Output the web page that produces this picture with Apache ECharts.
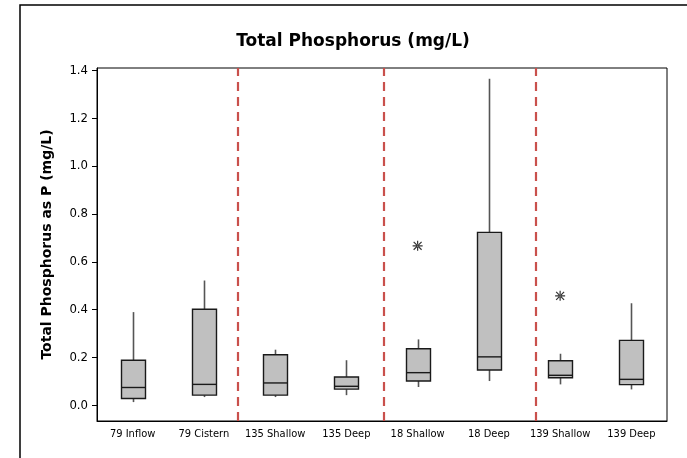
<!DOCTYPE html>
<html>
<head>
<meta charset="utf-8">
<script src="https://cdn.jsdelivr.net/npm/echarts@6/dist/echarts.min.js"></script>
<style>
html,body{margin:0;padding:0;background:#fff;}
#chart{width:687px;height:458px;}
</style>
</head>
<body>
<div id="chart"></div>
<script>
const categories = ['79 Inflow','79 Cistern','135 Shallow','135 Deep','18 Shallow','18 Deep','139 Shallow','139 Deep'];
const mins    = [0.014, 0.035, 0.035, 0.043, 0.077, 0.102, 0.088, 0.067];
const q1s     = [0.029, 0.043, 0.043, 0.068, 0.102, 0.148, 0.116, 0.087];
const medians = [0.075, 0.088, 0.094, 0.080, 0.137, 0.203, 0.126, 0.109];
const q3s     = [0.189, 0.402, 0.212, 0.119, 0.237, 0.723, 0.187, 0.272];
const maxs    = [0.390, 0.522, 0.233, 0.189, 0.276, 1.365, 0.216, 0.427];
const outlierCats = ['18 Shallow', '139 Shallow'];
const outlierVals = [0.667, 0.458];
const refLines = [1.97, 4.02, 6.16];
const yTicks = [0.0, 0.2, 0.4, 0.6, 0.8, 1.0, 1.2, 1.4];

const FONT = '"DejaVu Sans Condensed", "DejaVu Sans", sans-serif';
const FONT_B = '"DejaVu Sans", sans-serif';
const boxData = categories.map((c, i) => [i, mins[i], q1s[i], medians[i], q3s[i], maxs[i]]);
const outData = outlierCats.map((c, i) => [c, outlierVals[i]]);
const asterisk = 'path://M8.8,0 L11.2,0 L11.2,20 L8.8,20 Z M0,8.8 L0,11.2 L20,11.2 L20,8.8 Z M1.2,2.9 L17.1,18.8 L18.8,17.1 L2.9,1.2 Z M17.1,1.2 L1.2,17.1 L2.9,18.8 L18.8,2.9 Z';

function renderBox(params, api) {
  const x = api.value(0);
  const pMin = api.coord([x, api.value(1)]);
  const pQ1 = api.coord([x, api.value(2)]);
  const pMed = api.coord([x, api.value(3)]);
  const pQ3 = api.coord([x, api.value(4)]);
  const pMax = api.coord([x, api.value(5)]);
  const half = 12;
  const cx = Math.round(pMed[0]) + 0.5;
  const whisk = {stroke: '#555', lineWidth: 1.6};
  const edge = {stroke: '#1a1a1a', lineWidth: 1.4};
  return {
    type: 'group',
    children: [
      {type: 'line', shape: {x1: cx, y1: pMin[1], x2: cx, y2: pQ1[1]}, style: whisk},
      {type: 'line', shape: {x1: cx, y1: pQ3[1], x2: cx, y2: pMax[1]}, style: whisk},
      {type: 'rect', shape: {x: cx - half, y: pQ3[1], width: half * 2, height: pQ1[1] - pQ3[1]},
        style: {fill: '#c0c0c0', stroke: '#1a1a1a', lineWidth: 1.4}},
      {type: 'line', shape: {x1: cx - half, y1: pMed[1], x2: cx + half, y2: pMed[1]}, style: edge}
    ]
  };
}

const chart = echarts.init(document.getElementById('chart'), null, {renderer: 'canvas'});
chart.setOption({
  backgroundColor: '#fff',
  animation: false,
  title: {
    text: 'Total Phosphorus (mg/L)',
    left: 348, textAlign: 'center', top: 28,
    textStyle: {fontFamily: FONT_B, fontWeight: 'bold', fontSize: 17, color: '#000'}
  },
  grid: {left: 97, right: 20, top: 68, bottom: 37, show: true, borderColor: '#000', borderWidth: 1, backgroundColor: 'transparent'},
  xAxis: [{
    type: 'category', data: categories, boundaryGap: true,
    axisLine: {onZero: false, lineStyle: {color: '#000', width: 1}},
    axisTick: {alignWithLabel: true, length: 5, lineStyle: {color: '#555'}},
    axisLabel: {fontFamily: FONT, fontSize: 11, color: '#000', margin: 8, interval: 0},
    splitLine: {show: false}
  }, {
    type: 'value', min: 0, max: 8, show: false, position: 'bottom'
  }],
  yAxis: {
    type: 'value', min: -0.065, max: 1.41,
    name: 'Total Phosphorus as P (mg/L)', nameLocation: 'middle', nameGap: 43, nameRotate: 90,
    nameTextStyle: {fontFamily: FONT_B, fontWeight: 'bold', fontSize: 14, color: '#000'},
    axisLine: {show: true, onZero: false, lineStyle: {color: '#000', width: 1}},
    axisTick: {show: true, length: 5, customValues: yTicks, lineStyle: {color: '#000'}},
    axisLabel: {fontFamily: FONT, fontSize: 13, color: '#000', margin: 9, customValues: yTicks,
      formatter: v => v.toFixed(1)},
    splitLine: {show: false}
  },
  series: [{
    type: 'custom', data: boxData, xAxisIndex: 0,
    encode: {x: 0, y: [1, 2, 3, 4, 5]},
    renderItem: renderBox, z: 2, silent: true
  }, {
    type: 'scatter', data: outData, xAxisIndex: 0, z: 3,
    symbol: asterisk, symbolSize: 10,
    itemStyle: {color: '#000'}
  }, {
    type: 'line', xAxisIndex: 1, data: [], silent: true,
    markLine: {
      silent: true, symbol: 'none', label: {show: false},
      lineStyle: {color: '#c9504c', width: 2.2, type: [9, 6]},
      data: refLines.map(v => ({xAxis: v}))
    }
  }],
  graphic: [{
    type: 'rect', shape: {x: 20, y: 5, width: 700, height: 500},
    style: {fill: 'none', stroke: '#000', lineWidth: 1.5}, silent: true
  }]
});
</script>
</body>
</html>
